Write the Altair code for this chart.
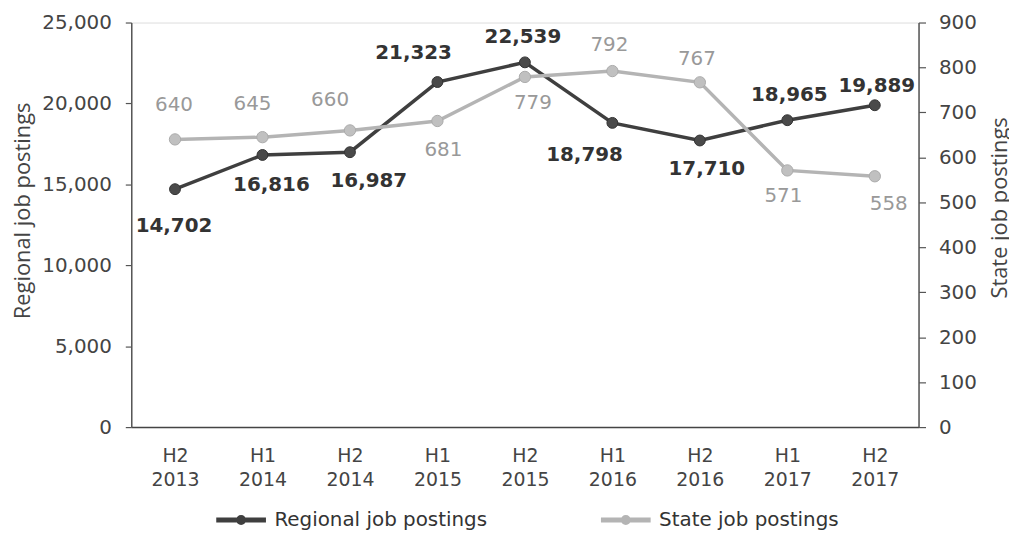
import json
import altair as alt
import pandas as pd

periods = ["H2 2013", "H1 2014", "H2 2014", "H1 2015", "H2 2015",
           "H1 2016", "H2 2016", "H1 2017", "H2 2017"]
regional = [14702, 16816, 16987, 21323, 22539, 18798, 17710, 18965, 19889]
state = [640, 645, 660, 681, 779, 792, 767, 571, 558]

# label nudges (pixels) relative to each point
reg_dx = [-1, 9, 19, -24, -2, -28, 7, 2, 2]
reg_dy = [37, 30, 29, -29, -25, 32, 29, -25, -19]
st_dx = [-1, -10, -20, 6, 8, -3, -3, -4, 14]
st_dy = [-35, -33, -31, 29, 26, -26, -23, 26, 28]

W, H = 792, 407
REG_MAX, ST_MAX = 25000, 900
N = len(periods)

df = pd.DataFrame({
    "idx": list(range(N)),
    "period": periods,
    "regional": regional,
    "state": state,
    "reg_dx": reg_dx, "reg_dy": reg_dy,
    "st_dx": st_dx, "st_dy": st_dy,
})

series = ["Regional job postings", "State job postings"]
REG_LINE = "#3f3f3f"
REG_PT = "#4a4a4a"
ST_LINE = "#b4b4b4"
ST_PT = "#c0c0c0"
TICK_FONT = "DejaVu Sans"
TITLE_FONT = "Open Sans"

x_scale = alt.Scale(domain=[-0.5, N - 0.5], nice=False, zero=False)
x_axis = alt.Axis(
    title=None, values=list(range(N)), labelAngle=0, ticks=False, grid=False,
    labelExpr="split(" + json.dumps(periods) + "[datum.value], ' ')",
    labelFont=TICK_FONT, labelFontSize=19, labelColor="#444444",
    labelPadding=20, labelLineHeight=24,
    domainColor="#444444", domainWidth=1.5,
)

left_axis = alt.Axis(
    orient="left",
    values=[0, 5000, 10000, 15000, 20000, 25000],
    labelExpr="format(datum.value, ',')",
    grid=False, domainColor="#555555", domainWidth=1.5,
    tickColor="#555555", tickSize=6, tickWidth=1.2,
    labelFont=TICK_FONT, labelFontSize=20, labelColor="#444444", labelPadding=14,
    title="Regional job postings", titleFont=TITLE_FONT, titleFontSize=22,
    titleFontWeight="normal", titleColor="#444444",
    titleAngle=270, titleBaseline="middle", titleX=-109, titleY=189,
)
right_axis = alt.Axis(
    orient="right",
    values=[0, 100, 200, 300, 400, 500, 600, 700, 800, 900],
    grid=False, domainColor="#555555", domainWidth=1.5,
    tickColor="#555555", tickSize=7, tickWidth=1.2,
    labelFont=TICK_FONT, labelFontSize=20, labelColor="#444444", labelPadding=13,
    title="State job postings", titleFont=TITLE_FONT, titleFontSize=22,
    titleFontWeight="normal", titleColor="#444444",
    titleAngle=270, titleBaseline="middle", titleX=81, titleY=186,
)

legend = alt.Legend(
    title=None, orient="none", direction="horizontal",
    legendX=83, legendY=473,
    symbolType="M-1,0L1,0M-0.1,0A0.1,0.1,0,1,1,0.1,0A0.1,0.1,0,1,1,-0.1,0Z",
    symbolSize=2500, symbolStrokeWidth=5,
    labelFont=TICK_FONT, labelFontSize=20, labelColor="#333333", labelLimit=400,
    labelOffset=6, columnPadding=103, gridAlign="all",
)

color_scale = alt.Scale(domain=series, range=[REG_LINE, ST_LINE])

base = alt.Chart(df)
x_enc = alt.X("idx:Q", scale=x_scale, axis=x_axis)
xl_enc = alt.X("lx:Q", scale=x_scale, axis=x_axis)

reg_line = base.transform_calculate(series="'Regional job postings'").mark_line(
    strokeWidth=3.5).encode(
    x=x_enc,
    y=alt.Y("regional:Q", scale=alt.Scale(domain=[0, REG_MAX]), axis=left_axis),
    color=alt.Color("series:N", scale=color_scale, legend=legend),
)
reg_pts = base.mark_circle(size=120, opacity=1, color=REG_PT,
                           stroke="#333333", strokeWidth=1).encode(
    x=x_enc,
    y=alt.Y("regional:Q", scale=alt.Scale(domain=[0, REG_MAX]), axis=None))
reg_txt = base.transform_calculate(
    lx=f"datum.idx + datum.reg_dx * {N} / {W}",
    ly=f"datum.regional - datum.reg_dy * {REG_MAX} / {H}",
).mark_text(font=TICK_FONT, fontSize=20, fontWeight="bold",
            color="#333333", baseline="middle", align="center").encode(
    x=xl_enc,
    y=alt.Y("ly:Q", scale=alt.Scale(domain=[0, REG_MAX]), axis=None),
    text=alt.Text("regional:Q", format=","),
)

st_line = base.transform_calculate(series="'State job postings'").mark_line(
    strokeWidth=3.5).encode(
    x=x_enc,
    y=alt.Y("state:Q", scale=alt.Scale(domain=[0, ST_MAX]), axis=right_axis),
    color=alt.Color("series:N", scale=color_scale, legend=legend),
)
st_pts = base.mark_circle(size=130, opacity=1, color=ST_PT,
                          stroke="#aaaaaa", strokeWidth=1).encode(
    x=x_enc,
    y=alt.Y("state:Q", scale=alt.Scale(domain=[0, ST_MAX]), axis=None))
st_txt = base.transform_calculate(
    lx=f"datum.idx + datum.st_dx * {N} / {W}",
    ly=f"datum.state - datum.st_dy * {ST_MAX} / {H}",
).mark_text(font=TICK_FONT, fontSize=20, color="#999999",
            baseline="middle", align="center").encode(
    x=xl_enc,
    y=alt.Y("ly:Q", scale=alt.Scale(domain=[0, ST_MAX]), axis=None),
    text=alt.Text("state:Q", format=","),
)

chart = alt.layer(reg_line, reg_pts, reg_txt, st_line, st_pts, st_txt).resolve_scale(
    y="independent").properties(
    width=W, height=H,
    autosize=alt.AutoSizeParams(type="none"),
    padding={"left": 124, "top": 13, "right": 91, "bottom": 118},
).configure_view(strokeWidth=0).configure(background="white")

chart.save("out.html", embed_options={"renderer": "svg", "actions": False})
